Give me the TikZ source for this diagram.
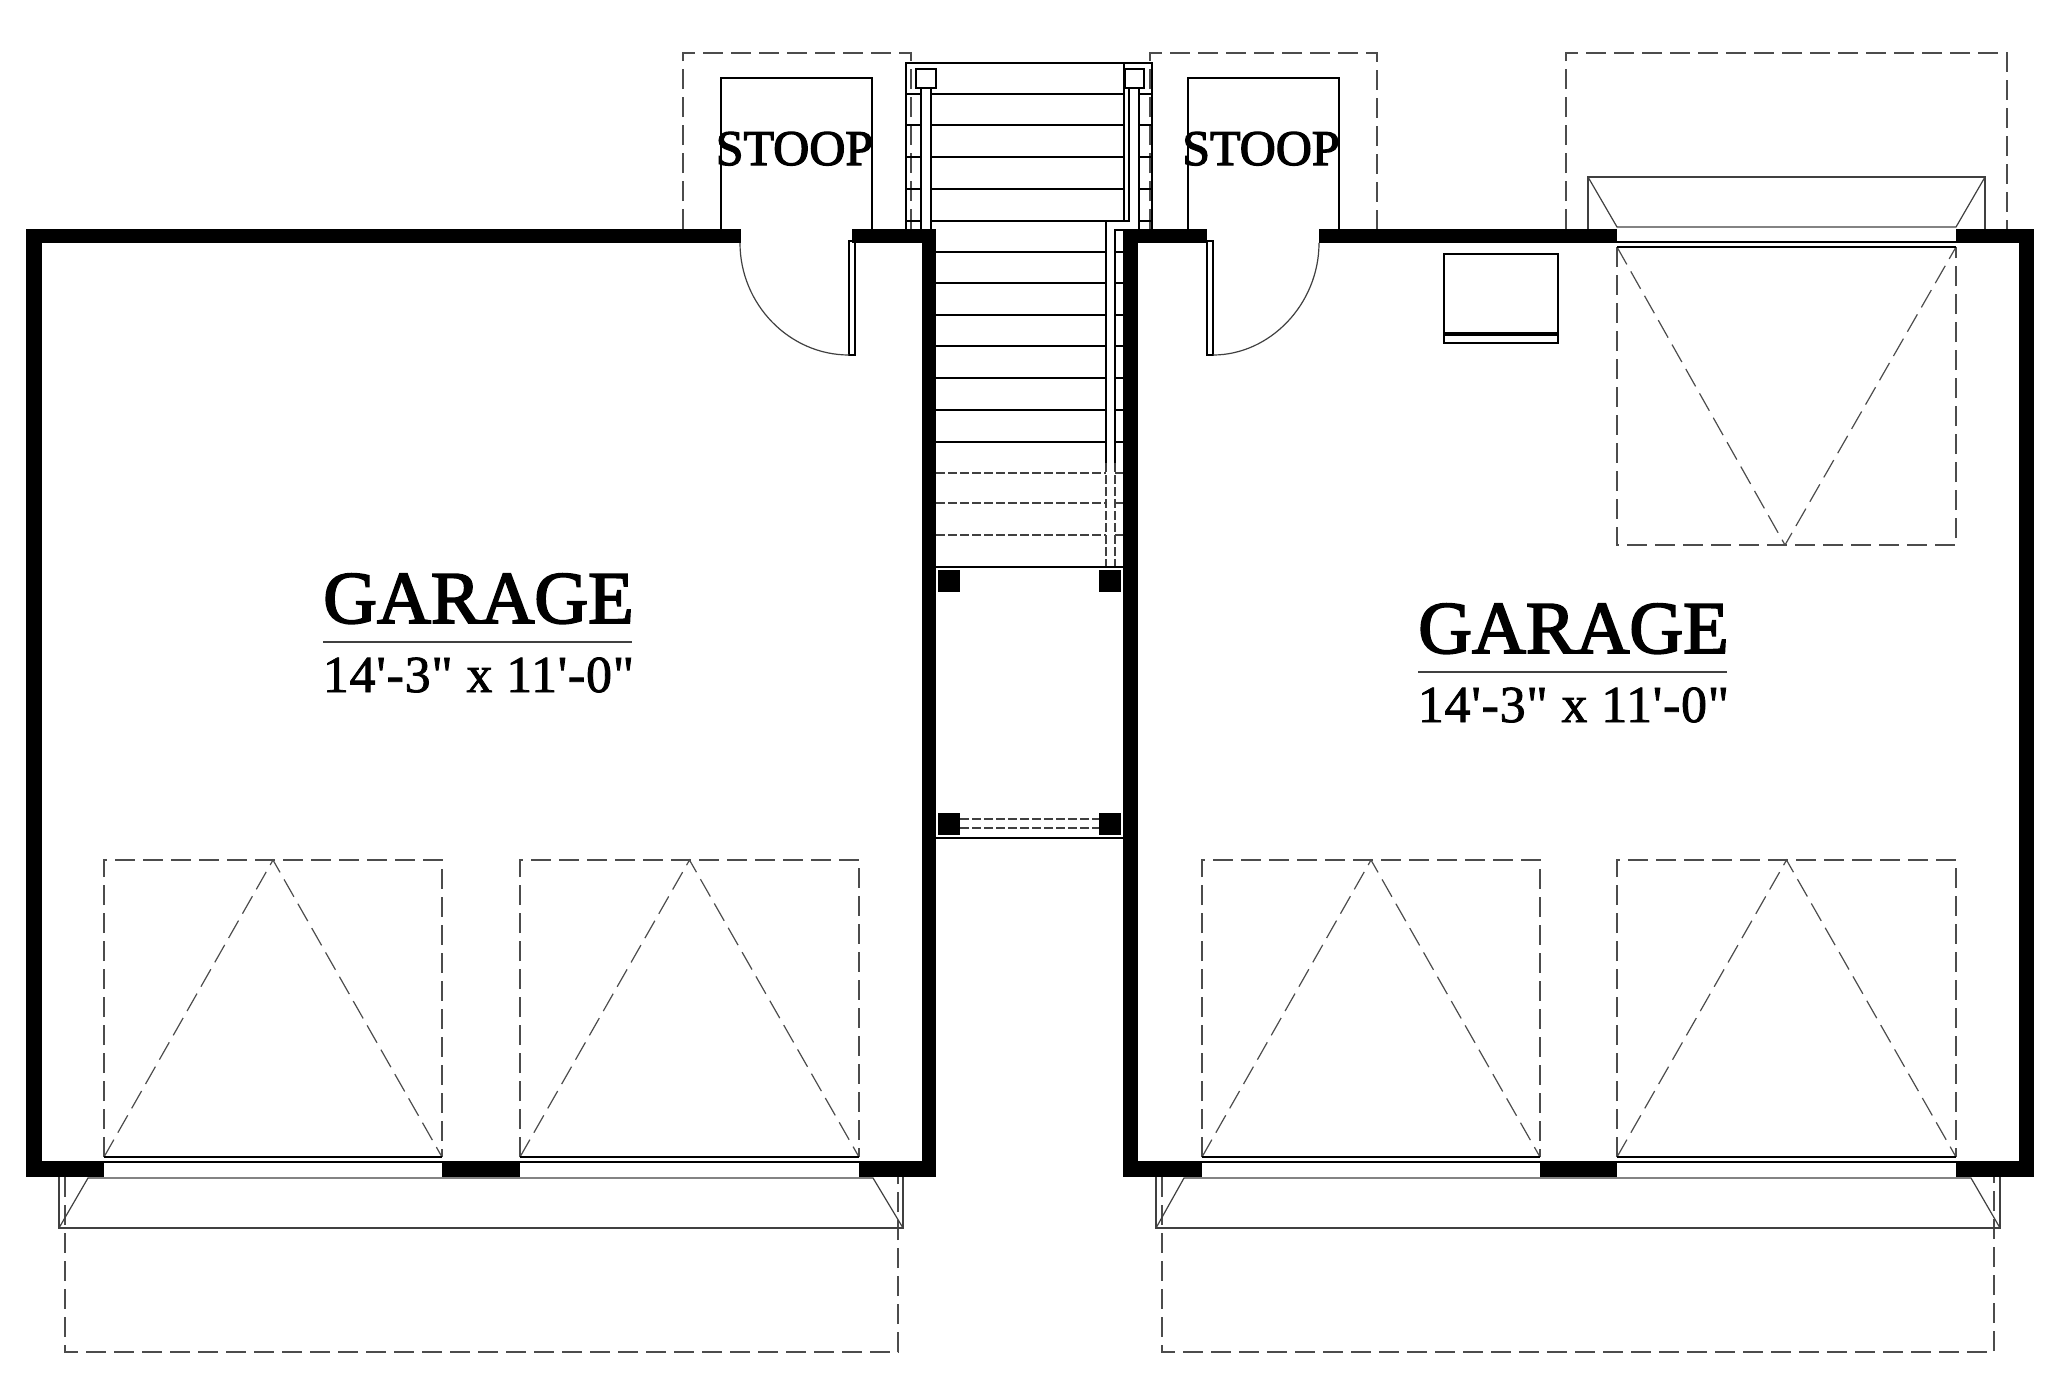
\documentclass[tikz,border=0pt]{standalone}
\usepackage{fontspec}
\setmainfont{Liberation Serif}
\newfontfamily\labelfont[FakeBold=2.5]{Liberation Serif}
\newfontfamily\dimfont[LetterSpace=1.5,FakeBold=1.5]{Liberation Serif}
\usetikzlibrary{calc}
\tikzset{
wall/.style={fill=black},
solid line/.style={line width=1.5pt,draw=black},
glass line/.style={line width=2pt,draw=black},
thin line/.style={line width=1.2pt,draw=black!75},
hidden line/.style={line width=1.2pt,draw=black!70,dash pattern=on 20pt off 8pt},
short dash/.style={line width=1.2pt,draw=black!75,dash pattern=on 9pt off 3pt},
room/.style={anchor=base,inner sep=0pt,font=\labelfont\fontsize{74.5}{74.5}\selectfont},
size/.style={anchor=base,inner sep=0pt,font=\dimfont\fontsize{52}{52}\selectfont},
stoop/.style={anchor=base,inner sep=0pt,font=\labelfont\fontsize{50}{50}\selectfont},
}

\begin{document}
\begin{tikzpicture}[x=1pt,y=-1pt]
\useasboundingbox (0,0) rectangle (2048,1395);
% stoops and overhangs
\draw[hidden line] (683,229) -- (683,53) -- (911,53) -- (911,229);
\draw[hidden line] (1150,229) -- (1150,53) -- (1377,53) -- (1377,229);
\draw[hidden line] (1566,229) -- (1566,53) -- (2007,53) -- (2007,229);
\draw[hidden line] (65,1177) -- (65,1352) -- (898,1352) -- (898,1177);
\draw[hidden line] (1162,1177) -- (1162,1352) -- (1994,1352) -- (1994,1177);
\draw[solid line] (721,229) -- (721,78) -- (872,78) -- (872,229);
\draw[solid line] (1188,229) -- (1188,78) -- (1339,78) -- (1339,229);
% stairs
\draw[solid line] (906,229) -- (906,63) -- (1152,63) -- (1152,229);
\foreach \y in {94,125,157,189} {
  \draw[solid line] (906,\y) -- (921,\y);
  \draw[solid line] (931,\y) -- (1124,\y);
  \draw[solid line] (1139,\y) -- (1152,\y);
}
\draw[solid line] (906,221) -- (921,221);
\draw[solid line] (1139,221) -- (1152,221);
\draw[solid line] (921,88) -- (921,229);
\draw[solid line] (931,88) -- (931,229);
\draw[solid line] (1139,88) -- (1139,229);
\draw[solid line] (1124,63) -- (1124,221);
\draw[solid line] (1129,88) -- (1129,221) -- (931,221);
\draw[solid line] (1129,221) -- (1106,221) -- (1106,463);
\draw[solid line] (1123,230) -- (1115,230) -- (1115,463);
\draw[short dash] (1106,463) -- (1106,567);
\draw[short dash] (1115,463) -- (1115,567);
\foreach \y in {252,283,315,346,378,410,442} {
  \draw[solid line] (936,\y) -- (1106,\y);
  \draw[solid line] (1115,\y) -- (1123,\y);
}
\foreach \y in {473,503,535} {
  \draw[short dash] (936,\y) -- (1106,\y);
  \draw[short dash] (1115,\y) -- (1123,\y);
}
\draw[solid line,fill=white] (916,69) rectangle (936,88);
\draw[solid line,fill=white] (1125,69) rectangle (1144,88);
% walkway and posts
\draw[solid line] (936,567) -- (1123,567);
\draw[solid line] (936,838) -- (1123,838);
\draw[short dash] (960,819) -- (1099,819);
\draw[short dash] (960,828) -- (1099,828);
\foreach \x/\y in {938/570,1099/570,938/813,1099/813} {
  \fill[wall] (\x,\y) rectangle (\x+22,\y+22);
}
% overhead doors
\foreach \xa/\xb in {104/442,520/859,1202/1540,1617/1956} {
  \draw[hidden line] (\xa,1157) -- (\xa,860) -- (\xb,860) -- (\xb,1157);
  \draw[hidden line] (\xa,1157) -- ({(\xa+\xb)/2},860) -- (\xb,1157);
  \draw[glass line] (\xa,1157) -- (\xb,1157);
  \draw[glass line] (\xa,1162) -- (\xb,1162);
}
\draw[hidden line] (1617,247) -- (1617,545) -- (1956,545) -- (1956,247);
\draw[hidden line] (1617,247) -- (1785,545) -- (1956,247);
\draw[glass line] (1617,242) -- (1956,242);
\draw[glass line] (1617,247) -- (1956,247);
% roof over the doors
\draw[thin line] (59,1177) -- (59,1228) -- (903,1228) -- (903,1177);
\draw[thin line] (59,1228) -- (88,1178) -- (873,1178) -- (903,1228);
\draw[thin line] (1156,1177) -- (1156,1228) -- (2000,1228) -- (2000,1177);
\draw[thin line] (1156,1228) -- (1184,1178) -- (1971,1178) -- (2000,1228);
\draw[thin line] (1588,229) -- (1588,177) -- (1985,177) -- (1985,229);
\draw[thin line] (1588,177) -- (1617,227) -- (1956,227) -- (1985,177);
% walls
\fill[wall] (26,229) rectangle (741,243);
\fill[wall] (852,229) rectangle (936,243);
\fill[wall] (26,229) rectangle (42,1177);
\fill[wall] (922,229) rectangle (936,1177);
\fill[wall] (26,1161) rectangle (104,1177);
\fill[wall] (442,1161) rectangle (520,1177);
\fill[wall] (859,1161) rectangle (936,1177);
\fill[wall] (1123,229) rectangle (1207,243);
\fill[wall] (1319,229) rectangle (1617,243);
\fill[wall] (1956,229) rectangle (2034,243);
\fill[wall] (1123,229) rectangle (1138,1177);
\fill[wall] (2019,229) rectangle (2034,1177);
\fill[wall] (1123,1161) rectangle (1202,1177);
\fill[wall] (1540,1161) rectangle (1617,1177);
\fill[wall] (1956,1161) rectangle (2034,1177);
% entry doors
\draw[solid line] (849,241) rectangle (855,355);
\draw[thin line] (740,243) .. controls (740,304) and (789,355) .. (849,355);
\draw[solid line] (1207,241) rectangle (1213,355);
\draw[thin line] (1319,243) .. controls (1319,304) and (1270,355) .. (1213,355);
% box on the wall
\draw[solid line] (1444,254) rectangle (1558,343);
\fill[wall] (1444,332) rectangle (1558,336);
% labels
\node[stoop] (stoopleft) at (794.5,165) {STOOP};
\node[stoop] (stoopright) at (1261,165) {STOOP};
\node[room] (garageleft) at (478.5,623) {GARAGE};
\node[size] (sizeleft) at (478.5,692) {14'-3" x 11'-0"};
\draw[thin line] (323,642) -- (632,642);
\node[room] (garageright) at (1573.5,653) {GARAGE};
\node[size] (sizeright) at (1573.5,722) {14'-3" x 11'-0"};
\draw[thin line] (1418,672) -- (1727,672);
\end{tikzpicture}
\end{document}
